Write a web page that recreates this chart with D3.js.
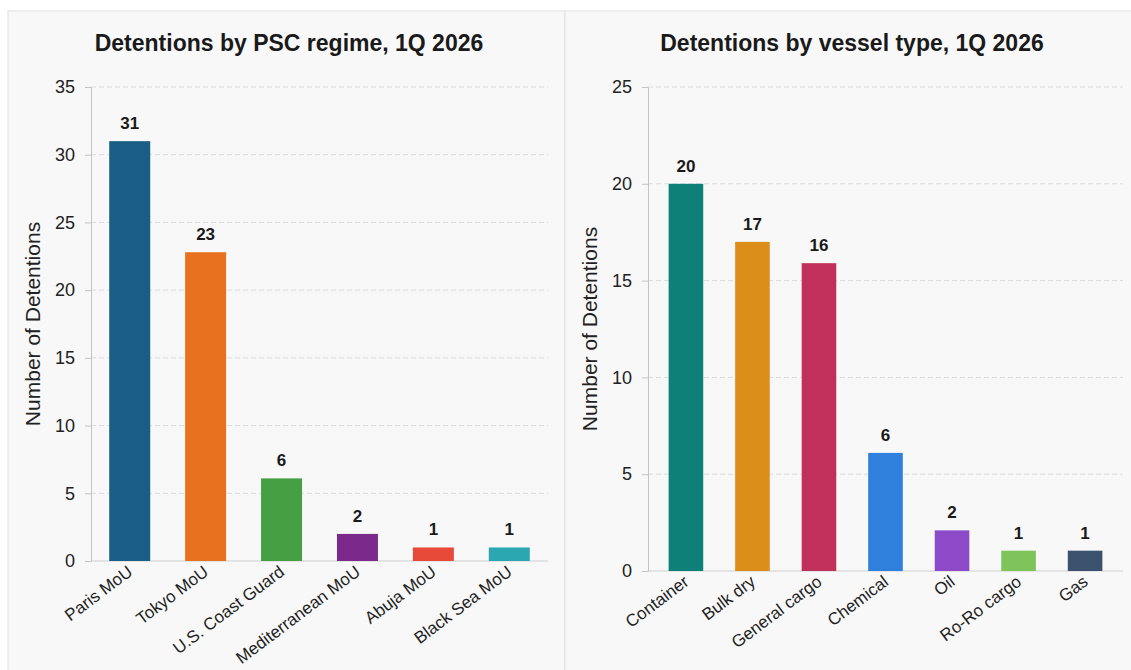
<!DOCTYPE html>
<html lang="en">
<head>
    <meta charset="UTF-8">
    <title>Detentions 1Q 2026</title>
    <script src="https://d3js.org/d3.v7.min.js"></script>
    <style>
        body {
            margin: 0;
            background-color: #ffffff;
            font-family: "Liberation Sans", Arial, sans-serif;
        }

        .title {
            font-size: 23px;
            font-weight: bold;
            fill: #1a1a1a;
        }

        .tick text {
            font-size: 18px;
            fill: #222;
        }

        .axis-title {
            font-size: 21px;
            fill: #222;
        }

        .value-label {
            font-size: 17px;
            font-weight: bold;
            fill: #1a1a1a;
        }

        .cat-label {
            font-size: 17px;
            fill: #222;
        }

        .grid line {
            stroke: #dcdcdc;
            stroke-dasharray: 5,3;
        }
    </style>
</head>
<body>
    <svg id="chart" width="1131" height="670"></svg>

    <script>
        // left chart data
        const regimes = ["Paris MoU", "Tokyo MoU", "U.S. Coast Guard", "Mediterranean MoU", "Abuja MoU", "Black Sea MoU"];
        const regimeValues = [31, 22.8, 6.1, 2, 1, 1];
        const regimeColors = ["#1b5e85", "#e8711f", "#46a043", "#7b2a8c", "#e84a3a", "#2aa7b0"];
        const regimeTicks = [0, 5, 10, 15, 20, 25, 30, 35];

        // right chart data
        const vesselTypes = ["Container", "Bulk dry", "General cargo", "Chemical", "Oil", "Ro-Ro cargo", "Gas"];
        const vesselValues = [20, 17, 15.9, 6.1, 2.1, 1.05, 1.05];
        const vesselColors = ["#0e8077", "#dd8e1a", "#c0305a", "#2f7fdc", "#8e4bc9", "#7ec45a", "#3a526d"];
        const vesselTicks = [0, 5, 10, 15, 20, 25];

        const svg = d3.select("#chart");
        const fmt = d3.format(".0f");

        // panels
        svg.append("rect")
            .attr("x", 8).attr("y", 11)
            .attr("width", 557).attr("height", 670)
            .attr("fill", "#f8f8f8").attr("stroke", "#e0e0e0");
        svg.append("rect")
            .attr("x", 565).attr("y", 11)
            .attr("width", 580).attr("height", 670)
            .attr("fill", "#f8f8f8").attr("stroke", "#e0e0e0");

        function drawChart(opts) {
            const g = svg.append("g");

            const x = d3.scaleBand()
                .domain(opts.categories)
                .range([opts.left, opts.right])
                .paddingInner(opts.padIn)
                .paddingOuter(opts.padOut);

            const y = d3.scaleLinear()
                .domain([0, opts.max])
                .range([opts.bottom, opts.top]);

            // title
            g.append("text")
                .attr("class", "title")
                .attr("x", opts.titleX)
                .attr("y", 51)
                .attr("text-anchor", "middle")
                .text(opts.title);

            // dashed gridlines
            g.append("g")
                .attr("class", "grid")
                .selectAll("line")
                .data(opts.ticks.filter(d => d > 0))
                .join("line")
                .attr("x1", opts.left)
                .attr("x2", opts.right)
                .attr("y1", d => y(d))
                .attr("y2", d => y(d));

            // y axis
            const yAxis = g.append("g")
                .attr("transform", `translate(${opts.left},0)`)
                .call(d3.axisLeft(y).tickValues(opts.ticks).tickSize(6).tickPadding(10));
            yAxis.select(".domain").attr("stroke", "#c4c4c4");
            yAxis.selectAll(".tick line").attr("stroke", "#c4c4c4");
            yAxis.selectAll(".tick text").attr("font-family", null).attr("font-size", null);

            // baseline
            g.append("line")
                .attr("x1", opts.left).attr("x2", opts.right)
                .attr("y1", y(0)).attr("y2", y(0))
                .attr("stroke", "#cfcfcf");

            // axis title
            g.append("text")
                .attr("class", "axis-title")
                .attr("transform", `translate(${opts.left - 51},${(opts.top + opts.bottom) / 2}) rotate(-90)`)
                .attr("text-anchor", "middle")
                .text("Number of Detentions");

            const data = opts.categories.map((c, i) => ({ name: c, value: opts.values[i], color: opts.colors[i] }));

            // bars
            g.append("g")
                .selectAll("rect")
                .data(data)
                .join("rect")
                .attr("x", d => x(d.name))
                .attr("y", d => y(d.value))
                .attr("width", x.bandwidth())
                .attr("height", d => y(0) - y(d.value))
                .attr("fill", d => d.color);

            // value labels
            g.append("g")
                .selectAll("text")
                .data(data)
                .join("text")
                .attr("class", "value-label")
                .attr("x", d => x(d.name) + x.bandwidth() / 2)
                .attr("y", d => y(d.value) - 12)
                .attr("text-anchor", "middle")
                .text(d => fmt(d.value));

            // category labels
            g.append("g")
                .selectAll("text")
                .data(data)
                .join("text")
                .attr("class", "cat-label")
                .attr("transform", d => `translate(${x(d.name) + x.bandwidth() / 2 + 4},${y(0) + 13}) rotate(-37)`)
                .attr("text-anchor", "end")
                .text(d => d.name);
        }

        drawChart({
            title: "Detentions by PSC regime, 1Q 2026",
            titleX: 289,
            categories: regimes,
            values: regimeValues,
            colors: regimeColors,
            ticks: regimeTicks,
            max: 35,
            left: 91, right: 548,
            top: 87, bottom: 561,
            padIn: 0.46, padOut: 0.24
        });

        drawChart({
            title: "Detentions by vessel type, 1Q 2026",
            titleX: 852,
            categories: vesselTypes,
            values: vesselValues,
            colors: vesselColors,
            ticks: vesselTicks,
            max: 25,
            left: 648, right: 1123,
            top: 87, bottom: 571,
            padIn: 0.48, padOut: 0.31
        });
    </script>
</body>
</html>
